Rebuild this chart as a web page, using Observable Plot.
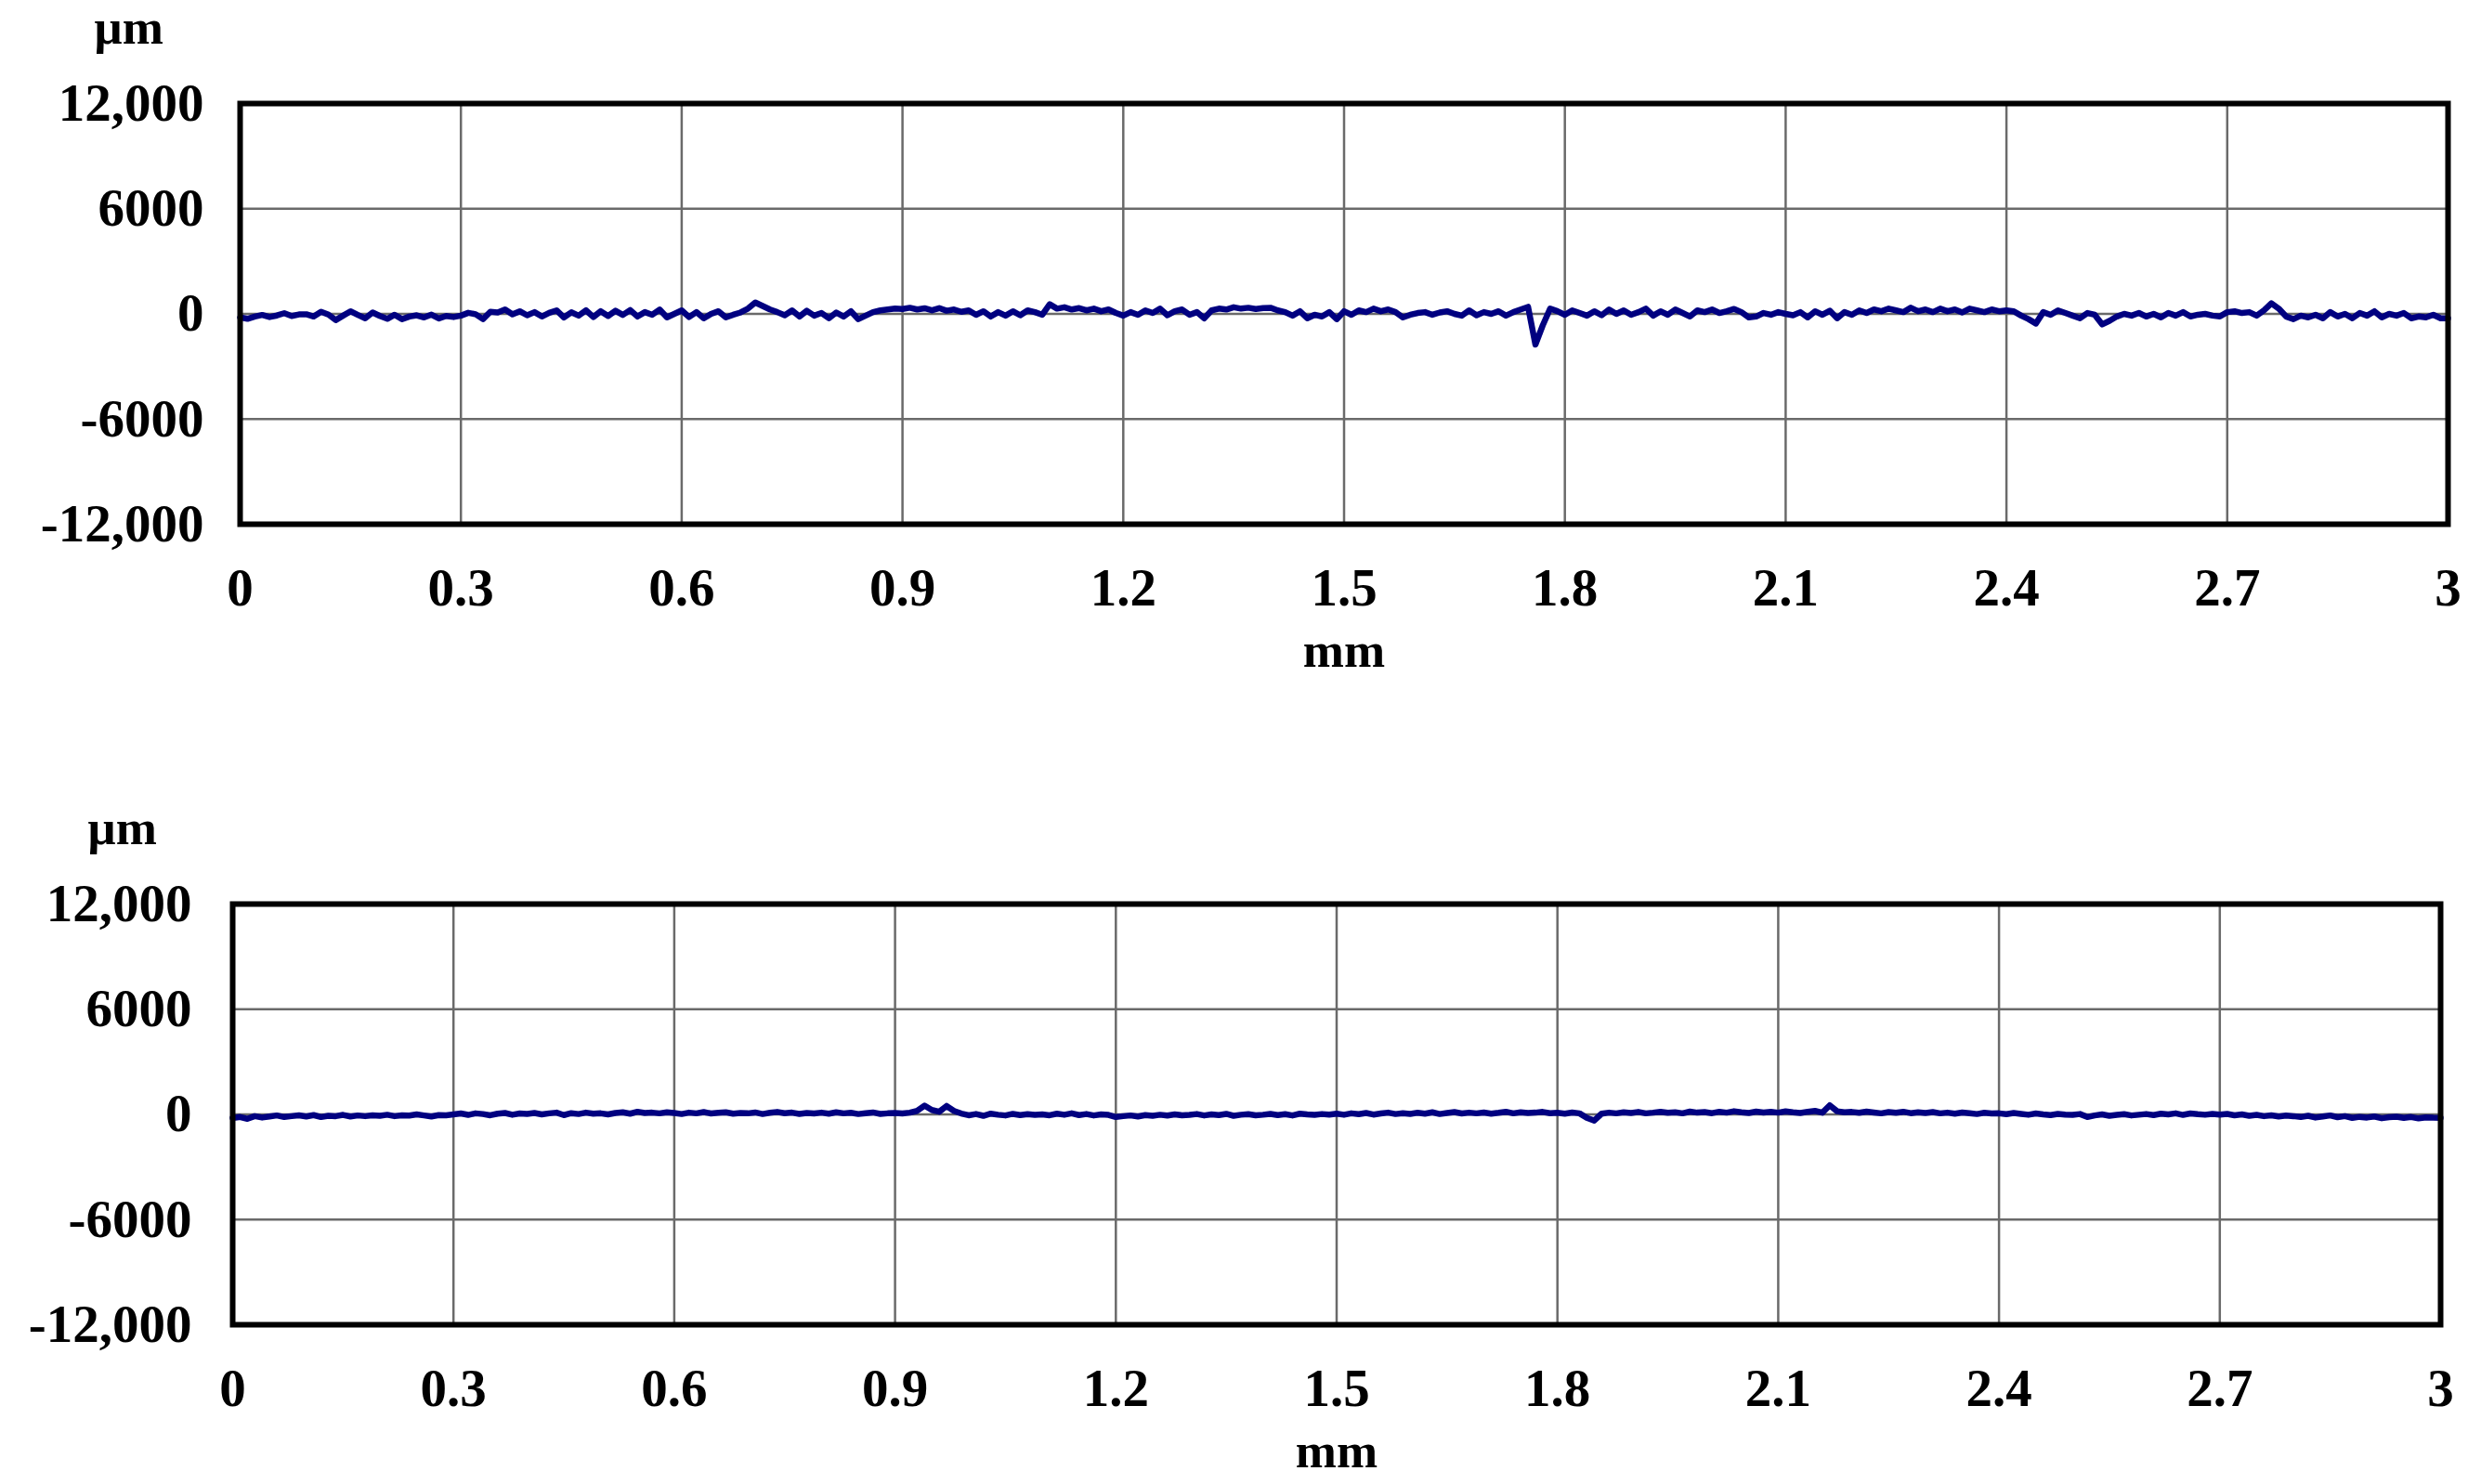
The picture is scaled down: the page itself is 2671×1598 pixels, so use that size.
<!DOCTYPE html>
<html>
<head>
<meta charset="utf-8">
<script src="https://cdn.jsdelivr.net/npm/d3@7"></script>
<script src="https://cdn.jsdelivr.net/npm/@observablehq/plot@0.6"></script>
<style>
  html, body { margin: 0; padding: 0; background: #fff; }
  #chart svg { display: block; }
</style>
</head>
<body>
<div id="chart"></div>
<script>
// sample spacing along the profile (mm)
const sampleStep = 0.01;

// upper profile, µm, one value every 0.01 mm from 0 to 3 mm
const topProfile = [
  -200, -280, -150, -60, -180, -90, 40, -120, -30, -20,
  -150, 120, -40, -350, -100, 150, -60, -250, 80, -120,
  -280, -50, -300, -150, -80, -200, -40, -260, -120, -180,
  -100, 60, -20, -300, 120, 80, 250, -30, 150, -80,
  100, -150, 60, 200, -200, 90, -100, 200, -180, 150,
  -120, 180, -60, 220, -150, 100, -50, 250, -200, 0,
  200, -180, 100, -250, 0, 150, -200, -50, 80, 300,
  650, 450, 250, 100, -80, 200, -150, 180, -100, 50,
  -250, 80, -150, 150, -300, -100, 100, 200, 250, 300,
  280, 350, 250, 320, 200, 330, 180, 250, 120, 200,
  -50, 150, -150, 100, -100, 150, -80, 200, 100, -50,
  550, 300, 380, 250, 330, 200, 300, 150, 250, 50,
  -100, 100, -50, 200, 50, 300, -80, 150, 250, -50,
  100, -250, 200, 300, 250, 380, 300, 350, 280, 330,
  350, 200, 100, -100, 150, -250, -50, -150, 100, -300,
  150, -50, 200, 100, 300, 150, 250, 100, -200, -50,
  50, 100, -50, 80, 150, 0, -100, 200, -80, 100,
  0, 150, -100, 100, 250, 400, -1750, -650, 300, 150,
  -50, 200, 50, -100, 150, -80, 250, 0, 200, -50,
  100, 300, -100, 150, -50, 250, 50, -150, 200, 100,
  250, 50, 150, 280, 100, -200, -150, 50, -50, 100,
  0, -80, 100, -200, 150, -50, 180, -250, 100, -50,
  200, 50, 250, 150, 300, 200, 100, 350, 150, 250,
  100, 300, 150, 250, 80, 300, 200, 100, 250, 150,
  200, 150, -100, -300, -550, 100, -50, 200, 50, -100,
  -250, 50, -50, -600, -400, -150, 0, -100, 50, -150,
  0, -200, 50, -100, 100, -150, -50, 0, -100, -150,
  100, 150, 50, 100, -100, 200, 600, 300, -150, -300,
  -100, -200, -50, -250, 100, -150, 0, -250, 50, -100,
  150, -200, 0, -100, 50, -250, -150, -200, -50, -250,
  -250
];

// lower profile, µm, one value every 0.01 mm from 0 to 3 mm
const bottomProfile = [
  -200, -150, -250, -100, -180, -120, -60, -150, -100, -50,
  -120, -40, -150, -80, -100, -30, -120, -60, -100, -50,
  -80, -20, -100, -50, -70, 0, -60, -120, -40, -50,
  0, 50, -30, 60, 20, -50, 40, 80, -20, 50,
  30, 80, 0, 60, 100, -40, 70, 20, 100, 40,
  60, 0, 80, 120, 40, 150, 80, 100, 60, 120,
  80, 20, 100, 60, 130, 50, 90, 120, 40, 80,
  60, 110, 20, 90, 140, 70, 100, 30, 80, 50,
  100, 40, 120, 60, 90, 20, 70, 110, 30, 60,
  80, 50, 100, 200, 500, 250, 150, 480, 200, 50,
  -50, 20, -80, 40, -20, -60, 30, -40, 10, -30,
  0, -50, 40, -20, 60, -40, 20, -60, 0, -30,
  -150, -100, -60, -120, -40, -80, -20, -70, 0, -50,
  -30, 20, -60, 0, -40, 30, -80, -20, 10, -50,
  -20, 30, -40, 10, -60, 40, 0, -30, 20, -10,
  40, -20, 60, 10, 80, -10, 50, 100, 20, 70,
  30, 90, 40, 120, 20, 80, 130, 50, 100, 60,
  110, 40, 90, 150, 60, 120, 80, 100, 140, 70,
  90, 40, 110, 60, -200, -350, 40, 100, 60, 120,
  80, 140, 60, 100, 150, 90, 120, 60, 160, 100,
  130, 70, 150, 100, 180, 120, 80, 160, 110, 140,
  100, 170, 120, 80, 150, 200, 100, 520, 180, 120,
  140, 90, 160, 110, 60, 130, 90, 150, 70, 120,
  80, 130, 60, 100, 40, 110, 70, 20, 90, 50,
  60, 10, 80, 30, -20, 50, 0, -40, 30, -10,
  -30, 20, -150, -60, 0, -80, -30, 10, -60, -20,
  20, -40, 40, 0, 60, -30, 50, 10, -20, 30,
  -10, 30, -50, 0, -80, -30, -100, -50, -120, -70,
  -100, -150, -80, -180, -120, -60, -160, -100, -200, -140,
  -180, -120, -220, -160, -130, -200, -150, -230, -170, -190,
  -200
];

const xTicks = [0, 0.3, 0.6, 0.9, 1.2, 1.5, 1.8, 2.1, 2.4, 2.7, 3];
const xTickLabels = ["0", "0.3", "0.6", "0.9", "1.2", "1.5", "1.8", "2.1", "2.4", "2.7", "3"];
const yTicks = [-12000, -6000, 0, 6000, 12000];
const yTickLabels = ["-12,000", "-6000", "0", "6000", "12,000"];
const yUnit = "µm";
const xUnit = "mm";

const xLabelMap = new Map(xTicks.map((t, i) => [t, xTickLabels[i]]));
const yLabelMap = new Map(yTicks.map((t, i) => [t, yTickLabels[i]]));

function profileChart(values, layout) {
  const data = values.map((v, i) => ({x: +(i * sampleStep).toFixed(2), y: v}));
  return Plot.plot({
    width: 2671,
    height: layout.height,
    marginTop: layout.marginTop,
    marginBottom: layout.marginBottom,
    marginLeft: layout.marginLeft,
    marginRight: layout.marginRight,
    style: {
      fontFamily: '"Liberation Serif", "Times New Roman", serif',
      fontWeight: "bold",
      fontSize: "57px",
      color: "#000",
      background: "#fff",
      overflow: "visible"
    },
    x: {domain: [0, 3]},
    y: {domain: [-12000, 12000]},
    marks: [
      Plot.gridX(xTicks, {stroke: "#6a6a6a", strokeOpacity: 1, strokeWidth: 2.5}),
      Plot.gridY(yTicks, {stroke: "#6a6a6a", strokeOpacity: 1, strokeWidth: 2.5}),
      Plot.line(data, {x: "x", y: "y", stroke: "#000080", strokeWidth: 6.5, strokeLinejoin: "round"}),
      Plot.frame({stroke: "#000", strokeWidth: 6}),
      Plot.axisX(xTicks, {tickSize: 0, tickPadding: 47, tickFormat: d => xLabelMap.get(d), label: null, fill: "#000"}),
      Plot.axisY(yTicks, {tickSize: 0, tickPadding: layout.yPad, tickFormat: d => yLabelMap.get(d), label: null, fill: "#000"}),
      Plot.text([yUnit], {text: d => d, frameAnchor: "top-left", textAnchor: "middle", lineAnchor: "bottom",
        dx: layout.unitDx, dy: -65, fontSize: 53, fill: "#000"}),
      Plot.text([xUnit], {text: d => d, frameAnchor: "bottom", textAnchor: "middle", lineAnchor: "bottom",
        dy: 153, fontSize: 53, fill: "#000"})
    ]
  });
}

const chart = document.getElementById("chart");
chart.append(profileChart(topProfile, {
  height: 760, marginTop: 111, marginBottom: 196, marginLeft: 258, marginRight: 36, yPad: 39, unitDx: -120
}));
chart.append(profileChart(bottomProfile, {
  height: 838, marginTop: 213, marginBottom: 172, marginLeft: 250, marginRight: 44, yPad: 44, unitDx: -119
}));
</script>
</body>
</html>
